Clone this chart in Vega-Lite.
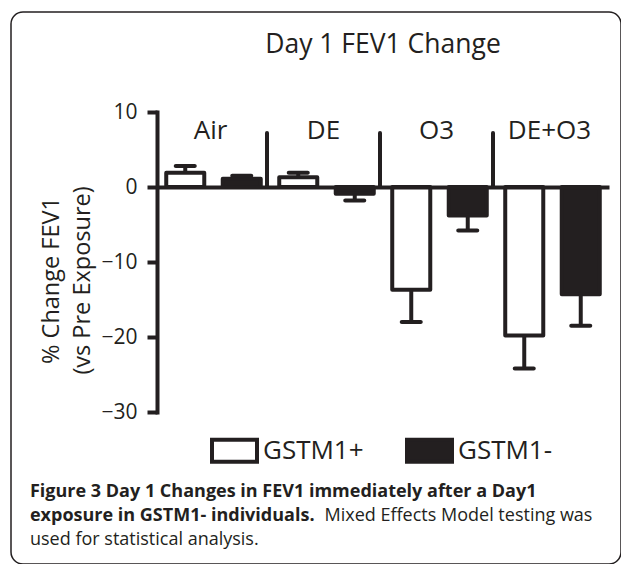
{
  "$schema": "https://vega.github.io/schema/vega-lite/v6.json",
  "width": 610,
  "height": 552,
  "autosize": {"type": "none"},
  "padding": {"left": 11, "top": 12, "right": 0, "bottom": 0},
  "background": "white",
  "config": {
    "font": "Open Sans",
    "view": {"stroke": "#231f20", "strokeWidth": 1.5, "cornerRadius": 12},
    "axis": {"grid": false}
  },
  "title": {
    "text": "Day 1 FEV1 Change",
    "fontSize": 26.5,
    "fontWeight": "normal",
    "color": "#231f20",
    "anchor": "middle",
    "frame": "group",
    "baseline": "alphabetic",
    "offset": 0,
    "dx": 67,
    "dy": 67
  },
  "datasets": {
    "fev": [
      {"exposure": "Air", "genotype": "GSTM1+", "mean": 1.9, "err": 2.8},
      {"exposure": "Air", "genotype": "GSTM1-", "mean": 1.1, "err": 1.5},
      {"exposure": "DE", "genotype": "GSTM1+", "mean": 1.3, "err": 1.9},
      {"exposure": "DE", "genotype": "GSTM1-", "mean": -0.9, "err": -1.8},
      {"exposure": "O3", "genotype": "GSTM1+", "mean": -13.7, "err": -18.0},
      {"exposure": "O3", "genotype": "GSTM1-", "mean": -3.8, "err": -5.8},
      {"exposure": "DE+O3", "genotype": "GSTM1+", "mean": -19.8, "err": -24.2},
      {"exposure": "DE+O3", "genotype": "GSTM1-", "mean": -14.3, "err": -18.5}
    ]
  },
  "layer": [
    {
      "data": {"name": "fev"},
      "layer": [
        {
          "mark": {"type": "bar", "stroke": "#231f20", "strokeWidth": 4, "strokeJoin": "round"},
          "encoding": {
            "x": {
              "field": "exposure", "type": "nominal",
              "sort": ["Air", "DE", "O3", "DE+O3"],
              "scale": {"range": [146, 598], "paddingInner": 0, "paddingOuter": 0},
              "axis": {"orient": "top", "offset": -175, "domain": true, "domainWidth": 4, "domainColor": "#231f20", "ticks": false, "labels": false, "title": null, "zindex": 1}
            },
            "xOffset": {
              "field": "genotype", "type": "nominal",
              "sort": ["GSTM1+", "GSTM1-"],
              "scale": {"paddingInner": 0.327, "paddingOuter": 0.1635}
            },
            "y": {
              "field": "mean", "type": "quantitative",
              "scale": {"domain": [-30, 10], "range": [400, 100], "nice": false, "zero": false},
              "axis": {
                "orient": "left", "offset": -146,
                "values": [10, 0, -10, -20, -30],
                "domainWidth": 4, "domainColor": "#231f20", "domainCap": "square",
                "tickWidth": 4, "tickSize": 10, "tickColor": "#231f20",
                "labelFontSize": 21, "labelColor": "#231f20", "labelPadding": 10,
                "title": ["% Change FEV1", "(vs Pre Exposure)"],
                "titleFontSize": 23.5, "titleFontWeight": "normal", "titleColor": "#231f20",
                "titleLineHeight": 31, "titlePadding": 6, "titleY": 268,
                "zindex": 1
              }
            },
            "y2": {"datum": 0},
            "fill": {
              "field": "genotype", "type": "nominal",
              "sort": ["GSTM1+", "GSTM1-"],
              "scale": {"domain": ["GSTM1+", "GSTM1-"], "range": ["white", "#231f20"]},
              "legend": {
                "title": null, "orient": "none", "legendX": 199, "legendY": 414,
                "direction": "horizontal",
                "symbolType": "M-1,-0.49H1V0.49H-1Z", "symbolSize": 2025,
                "symbolStrokeWidth": 4, "symbolStrokeColor": "#231f20",
                "labelFontSize": 26, "labelColor": "#231f20", "labelOffset": 4,
                "columnPadding": 35, "padding": 0
              }
            }
          }
        },
        {
          "mark": {"type": "rule", "strokeWidth": 4, "color": "#231f20"},
          "encoding": {
            "x": {"field": "exposure", "type": "nominal", "sort": ["Air", "DE", "O3", "DE+O3"]},
            "xOffset": {"field": "genotype", "type": "nominal", "sort": ["GSTM1+", "GSTM1-"]},
            "y": {"field": "mean", "type": "quantitative"},
            "y2": {"field": "err"}
          }
        },
        {
          "mark": {"type": "tick", "color": "#231f20", "thickness": 4, "size": 23, "cornerRadius": 2, "opacity": 1},
          "encoding": {
            "x": {"field": "exposure", "type": "nominal", "sort": ["Air", "DE", "O3", "DE+O3"]},
            "xOffset": {"field": "genotype", "type": "nominal", "sort": ["GSTM1+", "GSTM1-"]},
            "y": {"field": "err", "type": "quantitative"}
          }
        },
        {
          "transform": [{"filter": "datum.genotype == 'GSTM1+' && datum.exposure != 'Air'"}],
          "mark": {"type": "rule", "strokeWidth": 4, "color": "#231f20", "strokeCap": "round", "xOffset": -3},
          "encoding": {
            "x": {"field": "exposure", "type": "nominal", "sort": ["Air", "DE", "O3", "DE+O3"], "bandPosition": 0},
            "y": {"datum": 0},
            "y2": {"datum": 7.2}
          }
        },
        {
          "transform": [{"filter": "datum.genotype == 'GSTM1+'"}],
          "mark": {"type": "text", "fontSize": 26, "color": "#231f20", "baseline": "alphabetic", "align": "center", "dx": -3},
          "encoding": {
            "x": {"field": "exposure", "type": "nominal", "sort": ["Air", "DE", "O3", "DE+O3"]},
            "y": {"datum": 6.4},
            "text": {"field": "exposure"}
          }
        }
      ]
    },
    {
      "layer": [
        {
          "data": {"values": [{"caption": "Figure 3 Day 1 Changes in FEV1 immediately after a Day1"}]},
          "mark": {"type": "text", "fontSize": 18, "fontWeight": "bold", "color": "#231f20", "align": "left", "baseline": "alphabetic"},
          "encoding": {
            "x": {"datum": 0.0311, "type": "quantitative", "scale": {"domain": [0, 1]}, "axis": null},
            "y": {"datum": -41.33},
            "text": {"field": "caption"}
          }
        },
        {
          "data": {"values": [{"caption": "exposure in GSTM1- individuals."}]},
          "mark": {"type": "text", "fontSize": 18, "fontWeight": "bold", "color": "#231f20", "align": "left", "baseline": "alphabetic"},
          "encoding": {
            "x": {"datum": 0.0311, "type": "quantitative"},
            "y": {"datum": -44.53},
            "text": {"field": "caption"}
          }
        },
        {
          "data": {"values": [{"caption": "Mixed Effects Model testing was"}]},
          "mark": {"type": "text", "fontSize": 18, "color": "#231f20", "align": "left", "baseline": "alphabetic"},
          "encoding": {
            "x": {"datum": 0.514, "type": "quantitative"},
            "y": {"datum": -44.53},
            "text": {"field": "caption"}
          }
        },
        {
          "data": {"values": [{"caption": "used for statistical analysis."}]},
          "mark": {"type": "text", "fontSize": 18, "color": "#231f20", "align": "left", "baseline": "alphabetic"},
          "encoding": {
            "x": {"datum": 0.0311, "type": "quantitative"},
            "y": {"datum": -47.73},
            "text": {"field": "caption"}
          }
        }
      ]
    }
  ],
  "resolve": {"scale": {"x": "independent"}}
}
